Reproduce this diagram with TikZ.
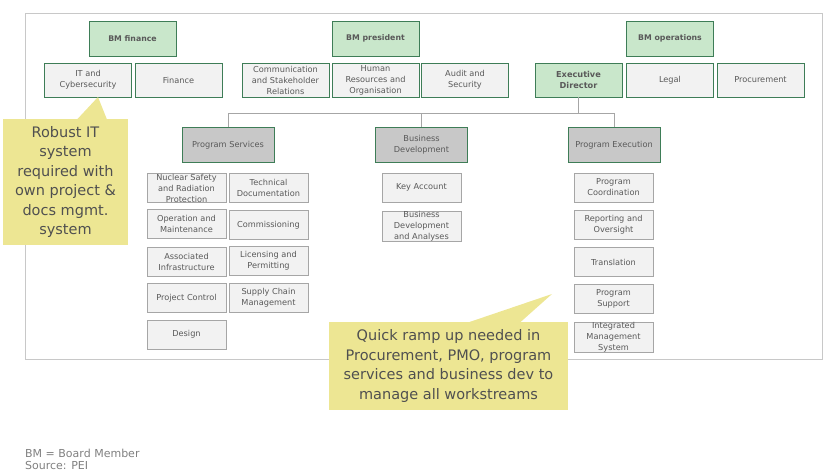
\documentclass[tikz,border=0pt]{standalone}
\usepackage{fontspec}
\setmainfont{DejaVu Sans}
\usepackage{tikz}
\usetikzlibrary{positioning}
\definecolor{bmgreen}{HTML}{C9E7CB}
\definecolor{bmedge}{HTML}{3E7D57}
\definecolor{unitgray}{HTML}{C8C8C8}
\definecolor{subfill}{HTML}{F2F2F2}
\definecolor{subedge}{HTML}{A6A6A6}
\definecolor{notefill}{HTML}{EDE693}
\definecolor{inktext}{HTML}{595959}

\begin{document}
\begin{tikzpicture}[x=1pt, y=-1pt,
  board/.style={draw=bmedge, fill=bmgreen, line width=0.8pt, minimum width=87pt, minimum height=35pt, inner sep=0pt, align=center, text=inktext, font=\fontsize{7.8}{10.5}\selectfont\bfseries},
  dept/.style={draw=bmedge, fill=subfill, line width=0.8pt, minimum width=87pt, minimum height=34pt, inner sep=0pt, align=center, text=inktext, font=\fontsize{8.2}{11}\selectfont},
  unit/.style={draw=bmedge, fill=unitgray, line width=0.8pt, minimum width=92pt, minimum height=35pt, inner sep=0pt, align=center, text=inktext, font=\fontsize{8.2}{11}\selectfont},
  task/.style={draw=subedge, fill=subfill, line width=0.8pt, minimum width=79pt, minimum height=29pt, inner sep=0pt, align=center, text=inktext, font=\fontsize{8.2}{11}\selectfont},
  note/.style={fill=notefill, inner sep=0pt, align=center, text=inktext!90!black, font=\fontsize{14.5}{19.4}\selectfont},
  link/.style={draw=subedge, line width=0.8pt}]
\useasboundingbox (0,0) rectangle (827,472);
\draw[unitgray, line width=0.8pt] (25,13) rectangle (822,359);

% board members
\node[board] (bmfin) at (132.5,38.5) {BM finance};
\node[board] (bmpres) at (375.5,38.5) {BM president};
\node[board] (bmops) at (670,38.5) {BM operations};

\node[dept] (it) at (88,80) {IT and\\Cybersecurity};
\node[dept] (fin) at (178.5,80) {Finance};
\node[dept] (comm) at (285.5,80) {Communication\\and Stakeholder\\Relations};
\node[dept] (hr) at (375.5,80) {Human\\Resources and\\Organisation};
\node[dept] (audit) at (465,80) {Audit and\\Security};
\node[dept, fill=bmgreen, font=\fontsize{8.2}{11}\selectfont\bfseries] (exec) at (578.5,80) {Executive\\Director};
\node[dept] (legal) at (670,80) {Legal};
\node[dept] (proc) at (760.5,80) {Procurement};

% units below the executive director
\node[unit] (progserv) at (228,145) {Program Services};
\node[unit] (busdev) at (421.5,145) {Business\\Development};
\node[unit] (progexec) at (614,145) {Program Execution};

\coordinate (bus) at (0,113);
\draw[link] (exec.south) -- (exec.south |- bus);
\draw[link] (progserv.north) |- (progexec.north |- bus) -- (progexec.north);
\draw[link] (busdev.north) -- (busdev.north |- bus);

\node[task] (nuc) at (186.5,188) {Nuclear Safety\\and Radiation\\Protection};
\node[task] (opm) at (186.5,224) {Operation and\\Maintenance};
\node[task] (assoc) at (186.5,262) {Associated\\Infrastructure};
\node[task] (pctrl) at (186.5,298) {Project Control};
\node[task] (design) at (186.5,334.5) {Design};
\node[task] (techdoc) at (268.5,188) {Technical\\Documentation};
\node[task] (commis) at (268.5,225) {Commissioning};
\node[task] (licen) at (268.5,261) {Licensing and\\Permitting};
\node[task] (supply) at (268.5,297.5) {Supply Chain\\Management};

\node[task] (keyacc) at (421.5,187.5) {Key Account};
\node[task] (bda) at (421.5,226) {Business\\Development\\and Analyses};

\node[task] (coord) at (613.5,187.5) {Program\\Coordination};
\node[task] (report) at (613.5,224.5) {Reporting and\\Oversight};
\node[task] (transl) at (613.5,262) {Translation};
\node[task] (support) at (613.5,298.5) {Program\\Support};
\node[task] (ims) at (613.5,337) {Integrated\\Management\\System};

% callouts
\node[note, minimum width=125pt, minimum height=126pt] (itnote) at (65.5,182) {Robust IT\\system\\required with\\own project \&\\docs mgmt.\\system};
\fill[notefill] (77,119.5) -- (98,97) -- (107,119.5) -- cycle;
\node[note, minimum width=239pt, minimum height=88pt] (rampnote) at (448.5,366) {Quick ramp up needed in\\Procurement, PMO, program\\services and business dev to\\manage all workstreams};
\fill[notefill] (468,322.5) -- (552,294) -- (520,322.5) -- cycle;

\node[anchor=base west, inner sep=0pt, text=gray, font=\fontsize{11}{12.5}\selectfont] (legend) at (25,457) {BM = Board Member};
\node[anchor=base west, inner sep=0pt, text=gray, font=\fontsize{11}{12.5}\selectfont] (source) at (25,469) {Source: PEI};
\end{tikzpicture}
\end{document}
